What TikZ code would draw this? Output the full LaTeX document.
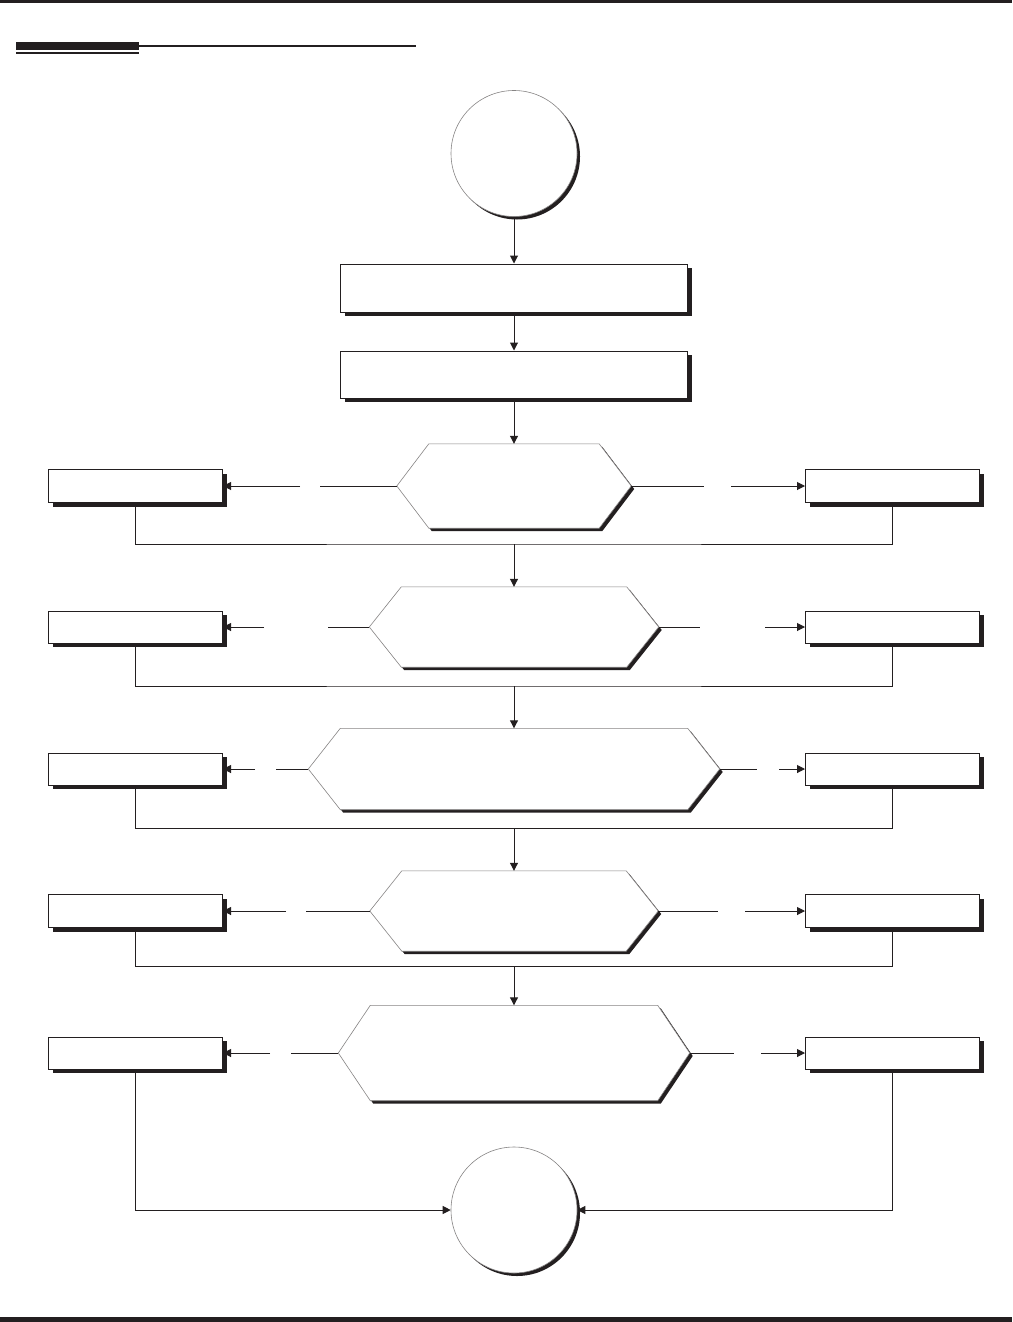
\documentclass[tikz,border=0pt]{standalone}
\usetikzlibrary{arrows.meta,shadows}
\definecolor{ink}{HTML}{231F20}
\tikzset{
  box/.style={rectangle, draw=ink, line width=1pt, fill=white, inner sep=0pt,
    drop shadow={shadow xshift=4pt, shadow yshift=-4pt, fill=ink, opacity=1}},
  term/.style={circle, draw=ink!55, line width=0.6pt, fill=white, minimum size=126pt, inner sep=0pt,
    drop shadow={shadow xshift=3pt, shadow yshift=-3pt, fill=ink, opacity=1}},
  hexnode/.style={rectangle, draw=none, inner sep=0pt},
  conn/.style={draw=ink, line width=1pt},
  arr/.style={conn, -{Triangle[length=8pt,width=8pt]}},
  hexfill/.style={fill=white, draw=ink!55, line width=0.6pt},
  hexshadow/.style={fill=ink},
}
\newcommand\hexoutline[4]{([shift={(#3,#4)}]#1.west) -- ([shift={(#2+#3,#4)}]#1.north west) -- ([shift={(-#2+#3,#4)}]#1.north east) -- ([shift={(#3,#4)}]#1.east) -- ([shift={(-#2+#3,#4)}]#1.south east) -- ([shift={(#2+#3,#4)}]#1.south west) -- cycle}
\begin{document}
\begin{tikzpicture}[x=1pt,y=-1pt]
\useasboundingbox (0,0) rectangle (1012,1322);
% page rules
\fill[ink] (0,0) rectangle (1012,3.5);
\fill[ink] (0,1317) rectangle (1012,1322);
\fill[ink] (16,42) rectangle (139,50);
\fill[ink] (16,52) rectangle (139,54.5);
\fill[ink] (139,44.7) rectangle (416,47);

% start and process boxes
\node[term] (start) at (514,153.5) {};
\node[box, minimum width=347pt, minimum height=48pt] (b1) at (514,288) {};
\node[box, minimum width=347pt, minimum height=47pt] (b2) at (514,374.5) {};

% decisions
\node[hexnode, minimum width=234pt, minimum height=84pt] (d1) at (514,486) {};
\node[hexnode, minimum width=289pt, minimum height=80pt] (d2) at (514,627) {};
\node[hexnode, minimum width=411pt, minimum height=81pt] (d3) at (514,769) {};
\node[hexnode, minimum width=288pt, minimum height=80pt] (d4) at (514,911) {};
\node[hexnode, minimum width=351pt, minimum height=95pt] (d5) at (514,1053) {};
\foreach \d in {d1,d2,d3,d4,d5}{
  \fill[hexshadow] \hexoutline{\d}{32}{3}{3};
  \path[hexfill] \hexoutline{\d}{32}{0}{0};
}

% side boxes
\foreach \n/\y/\h in {1/486/33, 2/627/32, 3/769/32, 4/911/33, 5/1053/32}{
  \node[box, minimum width=174pt, minimum height=\h pt] (L\n) at (135.5,\y) {};
  \node[box, minimum width=174pt, minimum height=\h pt] (R\n) at (892.5,\y) {};
}

% end
\node[term] (end) at (514,1210) {};

% merge points
\coordinate (m1) at (514,544);
\coordinate (m2) at (514,686);
\coordinate (m3) at (514,828);
\coordinate (m4) at (514,966);

% gap coordinates
\coordinate (l1a) at (320,486); \coordinate (l1b) at (300,486);
\coordinate (l2a) at (328,627); \coordinate (l2b) at (264,627);
\coordinate (l3a) at (276,769); \coordinate (l3b) at (255,769);
\coordinate (l4a) at (306,911); \coordinate (l4b) at (286,911);
\coordinate (l5a) at (291,1053); \coordinate (l5b) at (270,1053);
\coordinate (r1a) at (704,486); \coordinate (r1b) at (731,486);
\coordinate (r2a) at (700,627); \coordinate (r2b) at (765,627);
\coordinate (r3a) at (757,769); \coordinate (r3b) at (779,769);
\coordinate (r4a) at (718,911); \coordinate (r4b) at (745,911);
\coordinate (r5a) at (734,1053); \coordinate (r5b) at (761,1053);

% main spine
\draw[arr] (start.south) -- (b1.north);
\draw[arr] (b1.south) -- (b2.north);
\draw[arr] (b2.south) -- (d1.north);

% branches
\foreach \i in {1,...,5}{
  \draw[conn] (d\i.west) -- (l\i a);
  \draw[arr] (l\i b) -- (L\i.east);
  \draw[conn] (d\i.east) -- (r\i a);
  \draw[arr] (r\i b) -- (R\i.west);
}

% merges
\foreach \i/\j in {1/2,2/3,3/4,4/5}{
  \draw[conn] (L\i.south) |- (m\i) -| (R\i.south);
  \draw[arr] (m\i) -- (d\j.north);
}
\draw[arr] (L5.south) |- (end.west);
\draw[arr] (R5.south) |- (end.east);
\end{tikzpicture}
\end{document}
